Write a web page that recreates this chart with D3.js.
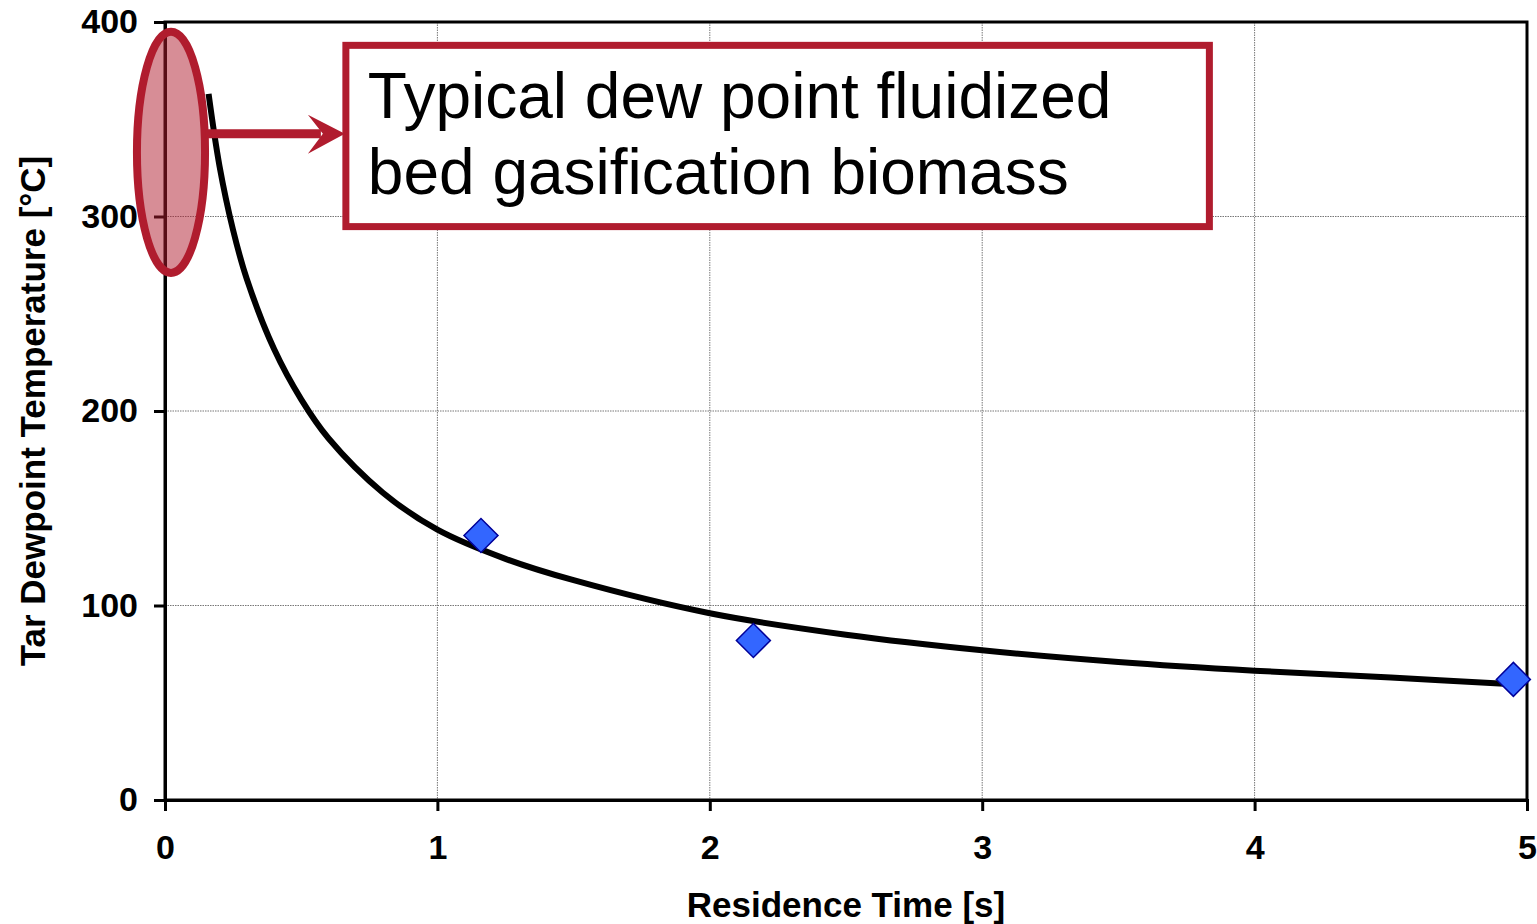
<!DOCTYPE html>
<html>
<head>
<meta charset="utf-8">
<script src="https://cdn.jsdelivr.net/npm/d3@7"></script>
<style>
  body { margin: 0; background: #fff; }
  text { font-family: Arial, "Liberation Sans", Helvetica, sans-serif; }
  .axis path, .axis line { stroke: #000; }
</style>
</head>
<body>
<svg id="chart"></svg>
<script>
// curve (residence time s, dewpoint degC)
var curveTime = [0.16, 0.2, 0.25, 0.3, 0.4, 0.5, 0.6, 0.8, 1.0, 1.25, 1.5, 2.0, 2.5, 3.0, 3.5, 4.0, 4.5, 4.95];
var curveTemp = [363, 326, 293, 268, 232, 206, 186, 158, 139, 124, 113, 96, 85, 77, 71, 66.5, 63, 59.5];

// measured points
var pointTime = [1.16, 2.16, 4.95];
var pointTemp = [136, 82, 62];

var xTicks = [0, 1, 2, 3, 4, 5];
var yTicks = [0, 100, 200, 300, 400];

// typical dew point range for fluidized bed gasification
var dewRange = [271, 395];
var noteLines = ["Typical dew point fluidized", "bed gasification biomass"];

var red = "#b01c2e";

// set the dimensions and margins of the graph
var W = 1537, H = 924;
var margin = {top: 22, right: 10, bottom: 124, left: 165},
    width = W - margin.left - margin.right,
    height = H - margin.top - margin.bottom;

var x = d3.scaleLinear().domain([0, 5]).range([0, width]);
var y = d3.scaleLinear().domain([0, 400]).range([height, 0]);

var svg = d3.select("#chart")
    .attr("width", W)
    .attr("height", H)
  .append("g")
    .attr("transform", "translate(" + margin.left + "," + margin.top + ")");

// gridlines
svg.append("g").selectAll("line").data(xTicks.slice(1, -1)).enter().append("line")
    .attr("x1", function(d) { return x(d); }).attr("x2", function(d) { return x(d); })
    .attr("y1", 0).attr("y2", height)
    .attr("stroke", "#777").attr("stroke-width", 1).attr("stroke-dasharray", "1.5,1");
svg.append("g").selectAll("line").data(yTicks.slice(1, -1)).enter().append("line")
    .attr("x1", 0).attr("x2", width)
    .attr("y1", function(d) { return y(d); }).attr("y2", function(d) { return y(d); })
    .attr("stroke", "#777").attr("stroke-width", 1).attr("stroke-dasharray", "1.5,1");

// frame
svg.append("rect")
    .attr("x", 0).attr("y", 0).attr("width", width).attr("height", height)
    .attr("fill", "none").attr("stroke", "#000").attr("stroke-width", 3);

// add the X Axis
var xAxis = svg.append("g")
    .attr("class", "axis")
    .attr("transform", "translate(0," + height + ")")
    .call(d3.axisBottom(x).tickValues(xTicks).tickSize(11).tickPadding(24)
      .tickFormat(d3.format("d")));
xAxis.select(".domain").attr("stroke-width", 3);
xAxis.selectAll(".tick line").attr("stroke-width", 3);
xAxis.selectAll("text").attr("font-size", 34).attr("font-weight", "bold").attr("fill", "#000")
    .attr("font-family", "Arial, 'Liberation Sans', sans-serif");

// add the Y Axis
var yAxis = svg.append("g")
    .attr("class", "axis")
    .call(d3.axisLeft(y).tickValues(yTicks).tickSize(11).tickPadding(16));
yAxis.select(".domain").attr("stroke-width", 3);
yAxis.selectAll(".tick line").attr("stroke-width", 3);
yAxis.selectAll("text").attr("font-size", 34).attr("font-weight", "bold").attr("fill", "#000")
    .attr("font-family", "Arial, 'Liberation Sans', sans-serif");

// axis titles
svg.append("text")
    .attr("x", width / 2).attr("y", height + 117)
    .attr("text-anchor", "middle")
    .attr("font-size", 35).attr("font-weight", "bold")
    .text("Residence Time [s]");
svg.append("text")
    .attr("transform", "translate(" + (45 - margin.left) + "," + (height / 2) + ") rotate(-90)")
    .attr("text-anchor", "middle")
    .attr("font-size", 35).attr("font-weight", "bold")
    .text("Tar Dewpoint Temperature [°C]");

// the fitted curve
var valueline = d3.line()
    .curve(d3.curveCatmullRom.alpha(0.5))
    .x(function(d) { return x(d[0]); })
    .y(function(d) { return y(d[1]); });

svg.append("path")
    .datum(d3.zip(curveTime, curveTemp))
    .attr("d", valueline)
    .attr("fill", "none").attr("stroke", "#000").attr("stroke-width", 6);

// measured points as diamonds
var diamond = d3.symbol().type(d3.symbolSquare).size(34 * 34 / 2);
svg.append("g").selectAll("path").data(d3.zip(pointTime, pointTemp)).enter().append("path")
    .attr("d", diamond)
    .attr("transform", function(d) { return "translate(" + x(d[0]) + "," + y(d[1]) + ") rotate(45)"; })
    .attr("fill", "#3366ff").attr("stroke", "#000099").attr("stroke-width", 1.5);

// ellipse marking the typical range
var ex0 = x(-0.103), ex1 = x(0.147);
var ey0 = y(dewRange[1]), ey1 = y(dewRange[0]);
svg.append("ellipse")
    .attr("cx", (ex0 + ex1) / 2).attr("cy", (ey0 + ey1) / 2)
    .attr("rx", (ex1 - ex0) / 2).attr("ry", (ey1 - ey0) / 2)
    .attr("fill", red).attr("fill-opacity", 0.5)
    .attr("stroke", red).attr("stroke-width", 8);

// note box
var bx0 = x(0.664), bx1 = x(3.834), by0 = y(388), by1 = y(294.8);
svg.append("rect")
    .attr("x", bx0).attr("y", by0).attr("width", bx1 - bx0).attr("height", by1 - by0)
    .attr("fill", "#fff").attr("stroke", red).attr("stroke-width", 7);

var note = svg.append("text")
    .attr("font-size", 64).attr("fill", "#000");
note.selectAll("tspan").data(noteLines).enter().append("tspan")
    .attr("x", bx0 + 22)
    .attr("y", function(d, i) { return by0 + 73 + i * 76; })
    .text(function(d) { return d; });

// arrow from ellipse to box
var ay = y(342.5);
svg.append("line")
    .attr("x1", ex1).attr("x2", bx0 - 25)
    .attr("y1", ay).attr("y2", ay)
    .attr("stroke", red).attr("stroke-width", 9);
svg.append("path")
    .attr("d", "M" + (bx0 - 1) + "," + ay +
               "L" + (bx0 - 38) + "," + (ay - 19) +
               "L" + (bx0 - 23) + "," + ay +
               "L" + (bx0 - 38) + "," + (ay + 20) + "Z")
    .attr("fill", red);
</script>
</body>
</html>
